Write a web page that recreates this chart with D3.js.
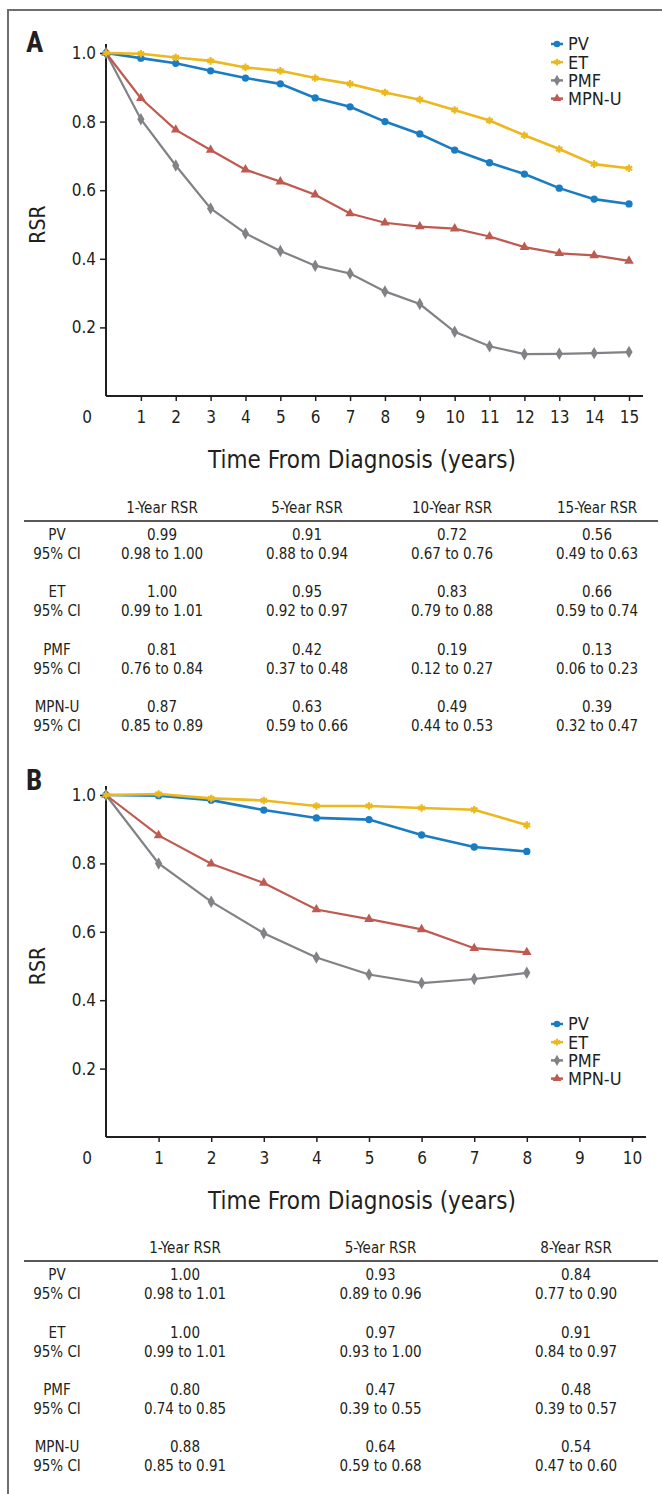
<!DOCTYPE html>
<html>
<head>
<meta charset="utf-8">
<script src="https://cdn.jsdelivr.net/npm/d3@7"></script>
<style>
  body { margin: 0; background: #fff; }
  svg text { font-family: "Liberation Sans Narrow", "DejaVu Sans Condensed", Roboto, sans-serif; font-stretch: condensed; fill: #231f20; }
</style>
</head>
<body>
<div id="chart"></div>
<script>
// series names + colours
var groups = ["PV", "ET", "PMF", "MPN-U"];
var colors = ["#1a7dc3", "#ebb81e", "#808285", "#bf5a50"];

// panel A: relative survival ratio by year, 0-15
var yearsA = [0, 1, 2, 3, 4, 5, 6, 7, 8, 9, 10, 11, 12, 13, 14, 15];
var pvA  = [1.0, 0.985, 0.97, 0.948, 0.927, 0.91, 0.869, 0.843, 0.80, 0.764, 0.717, 0.68, 0.647, 0.606, 0.574, 0.56];
var etA  = [1.0, 0.998, 0.987, 0.977, 0.958, 0.948, 0.927, 0.91, 0.885, 0.864, 0.834, 0.803, 0.76, 0.72, 0.676, 0.664];
var pmfA = [1.0, 0.807, 0.672, 0.547, 0.474, 0.423, 0.38, 0.357, 0.305, 0.268, 0.187, 0.145, 0.122, 0.123, 0.125, 0.128];
var mpnA = [1.0, 0.868, 0.776, 0.717, 0.66, 0.625, 0.587, 0.532, 0.505, 0.494, 0.488, 0.465, 0.434, 0.416, 0.41, 0.394];
var xTicksA = [1, 2, 3, 4, 5, 6, 7, 8, 9, 10, 11, 12, 13, 14, 15];

// panel B: 0-8 years
var yearsB = [0, 1, 2, 3, 4, 5, 6, 7, 8];
var pvB  = [1.0, 0.998, 0.985, 0.956, 0.933, 0.928, 0.883, 0.848, 0.835];
var etB  = [1.0, 1.003, 0.99, 0.984, 0.968, 0.968, 0.962, 0.957, 0.912];
var pmfB = [1.0, 0.80, 0.688, 0.596, 0.525, 0.475, 0.45, 0.462, 0.48];
var mpnB = [1.0, 0.882, 0.799, 0.743, 0.665, 0.637, 0.607, 0.552, 0.54];
var xTicksB = [1, 2, 3, 4, 5, 6, 7, 8, 9, 10];

var yTicks = [0.2, 0.4, 0.6, 0.8, 1.0];

// tables
var headA = ["1-Year RSR", "5-Year RSR", "10-Year RSR", "15-Year RSR"];
var rsrA = [["0.99", "0.91", "0.72", "0.56"],
            ["1.00", "0.95", "0.83", "0.66"],
            ["0.81", "0.42", "0.19", "0.13"],
            ["0.87", "0.63", "0.49", "0.39"]];
var ciA = [["0.98 to 1.00", "0.88 to 0.94", "0.67 to 0.76", "0.49 to 0.63"],
           ["0.99 to 1.01", "0.92 to 0.97", "0.79 to 0.88", "0.59 to 0.74"],
           ["0.76 to 0.84", "0.37 to 0.48", "0.12 to 0.27", "0.06 to 0.23"],
           ["0.85 to 0.89", "0.59 to 0.66", "0.44 to 0.53", "0.32 to 0.47"]];

var headB = ["1-Year RSR", "5-Year RSR", "8-Year RSR"];
var rsrB = [["1.00", "0.93", "0.84"],
            ["1.00", "0.97", "0.91"],
            ["0.80", "0.47", "0.48"],
            ["0.88", "0.64", "0.54"]];
var ciB = [["0.98 to 1.01", "0.89 to 0.96", "0.77 to 0.90"],
           ["0.99 to 1.01", "0.93 to 1.00", "0.84 to 0.97"],
           ["0.74 to 0.85", "0.39 to 0.55", "0.39 to 0.57"],
           ["0.85 to 0.91", "0.59 to 0.68", "0.47 to 0.60"]];

const width = 662, height = 1494;

var svg = d3.select("#chart").append("svg")
  .attr("width", width)
  .attr("height", height);

// frame (top + left edges)
svg.append("path")
  .attr("d", "M8,1494 V10 H662")
  .attr("fill", "none")
  .attr("stroke", "#6d6e71")
  .attr("stroke-width", 2);

var symbolTypes = [d3.symbolCircle, d3.symbolAsterisk, d3.symbolDiamond, d3.symbolTriangle];
var symbolSizes = [42, 40, 45, 40];

function drawMarker(g, i) {
  var p = g.append("path").attr("d", d3.symbol().type(symbolTypes[i]).size(symbolSizes[i])());
  if (i == 1) p.attr("fill", "none").attr("stroke", colors[i]).attr("stroke-width", 2.2);
  else p.attr("fill", colors[i]);
  return p;
}

function panel(opt) {
  var xScale = d3.scaleLinear().domain([0, opt.xMax]).range([106, opt.xEnd]);
  var yScale = d3.scaleLinear().domain([0, 1]).range([opt.y0, opt.y1]);

  var g = svg.append("g");

  // panel letter
  g.append("text")
    .attr("x", 26).attr("y", opt.y1 + opt.letterDy)
    .style("font-family", "Roboto, Arial, sans-serif")
    .style("font-weight", "bold")
    .style("font-size", "29px")
    .text(opt.letter);

  // y axis
  var yAxis = d3.axisLeft(yScale).tickValues(yTicks).tickFormat(d3.format(".1f")).tickSize(6).tickPadding(4);
  var ya = g.append("g").attr("transform", "translate(106,0)").call(yAxis);
  ya.select(".domain").attr("d", "M0," + (opt.y1 - 9) + "V" + opt.y0);

  // x axis
  var xAxis = d3.axisBottom(xScale).tickValues(opt.xTicks).tickSize(5).tickPadding(10);
  var xa = g.append("g").attr("transform", "translate(0," + opt.y0 + ")").call(xAxis);
  xa.select(".domain").attr("d", "M106,0H" + (opt.xEnd + 14));

  g.selectAll(".domain").attr("stroke", "#231f20").attr("stroke-width", 2);
  g.selectAll(".tick line").attr("stroke", "#231f20").attr("stroke-width", 1.5);
  g.selectAll(".tick text").style("font-size", "17px").attr("fill", "#231f20");

  // lone "0" under the y labels
  g.append("text")
    .attr("x", 87).attr("y", opt.y0 + 27)
    .attr("text-anchor", "middle")
    .style("font-size", "17px")
    .text("0");

  // axis titles
  g.append("text")
    .attr("transform", "translate(45," + ((opt.y0 + opt.y1) / 2) + ") rotate(-90)")
    .attr("text-anchor", "middle")
    .style("font-size", "21px")
    .text("RSR");

  g.append("text")
    .attr("x", 362).attr("y", opt.y0 + 72)
    .attr("text-anchor", "middle")
    .style("font-size", "24px")
    .text("Time From Diagnosis (years)");

  // lines
  var line = d3.line()
    .x(function(d, i) { return xScale(opt.years[i]); })
    .y(function(d) { return yScale(d); });

  var order = [2, 3, 0, 1];
  order.forEach(function(k) {
    g.append("path")
      .datum(opt.series[k])
      .attr("fill", "none")
      .attr("stroke", colors[k])
      .attr("stroke-width", k < 2 ? 2.6 : 2.2)
      .attr("d", line);

    g.selectAll(".m" + k)
      .data(opt.series[k])
      .enter()
      .append("g")
      .attr("class", "m" + k)
      .attr("transform", function(d, i) { return "translate(" + xScale(opt.years[i]) + "," + yScale(d) + ")"; })
      .each(function() { drawMarker(d3.select(this), k); });
  });

  // legend
  groups.forEach(function(name, i) {
    var ly = opt.legendY + i * 18.2;
    var lg = g.append("g").attr("transform", "translate(557," + ly + ")");
    lg.append("line").attr("x1", -6).attr("x2", 6).attr("stroke", colors[i]).attr("stroke-width", 2.5);
    drawMarker(lg, i).attr("transform", "scale(0.9)");
    lg.append("text")
      .attr("x", 11).attr("dy", "0.35em")
      .style("font-size", "18px")
      .text(name);
  });
}

panel({
  letter: "A", letterDy: -1,
  xMax: 15, xEnd: 629, xTicks: xTicksA,
  y0: 396, y1: 53,
  years: yearsA,
  series: [pvA, etA, pmfA, mpnA],
  legendY: 44
});

panel({
  letter: "B", letterDy: -5,
  xMax: 10, xEnd: 632, xTicks: xTicksB,
  y0: 1137, y1: 795,
  years: yearsB,
  series: [pvB, etB, pmfB, mpnB],
  legendY: 1024
});

function table(opt) {
  var g = svg.append("g").style("font-size", "15px");
  var xc = d3.scalePoint().domain(d3.range(opt.head.length)).range(opt.colRange);

  g.selectAll(".hd")
    .data(opt.head)
    .enter().append("text")
    .attr("x", function(d, i) { return xc(i); })
    .attr("y", opt.top)
    .attr("text-anchor", "middle")
    .attr("dy", "0.35em")
    .text(function(d) { return d; });

  g.append("line")
    .attr("x1", 24).attr("x2", 658)
    .attr("y1", opt.top + 13).attr("y2", opt.top + 13)
    .attr("stroke", "#231f20").attr("stroke-width", 1.5);

  groups.forEach(function(name, r) {
    var ry = opt.rowY[r];
    g.append("text").attr("x", 57).attr("y", ry).attr("dy", "0.35em").attr("text-anchor", "middle").text(name);
    g.append("text").attr("x", 57).attr("y", ry + 18.5).attr("dy", "0.35em").attr("text-anchor", "middle").text("95% CI");
    opt.rsr[r].forEach(function(v, c) {
      g.append("text").attr("x", xc(c)).attr("y", ry).attr("dy", "0.35em").attr("text-anchor", "middle").text(v);
      g.append("text").attr("x", xc(c)).attr("y", ry + 18.5).attr("dy", "0.35em").attr("text-anchor", "middle").text(opt.ci[r][c]);
    });
  });
}

table({
  head: headA, rsr: rsrA, ci: ciA,
  colRange: [162, 597],
  top: 508,
  rowY: [535, 592, 650, 707]
});

table({
  head: headB, rsr: rsrB, ci: ciB,
  colRange: [185, 576],
  top: 1248,
  rowY: [1275, 1333, 1390, 1447]
});
</script>
</body>
</html>
